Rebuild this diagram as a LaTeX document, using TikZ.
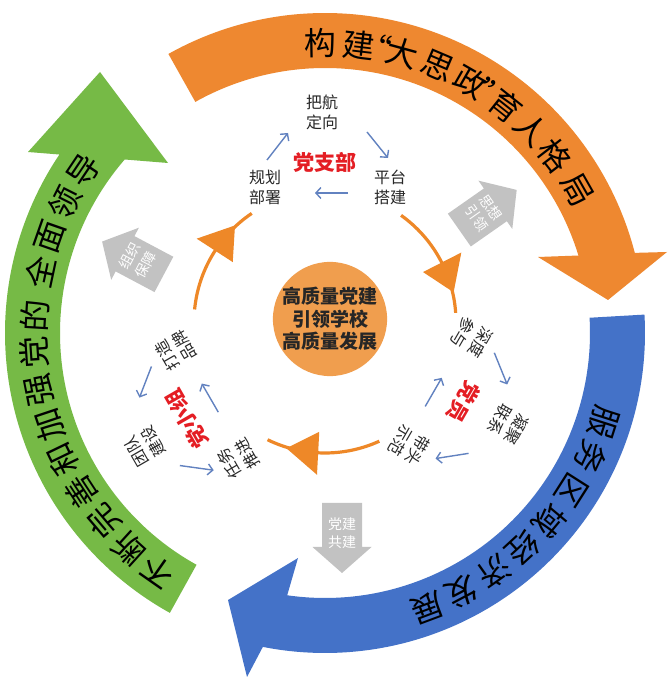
\documentclass[tikz,border=0pt]{standalone}
\usepackage{fontspec}
\newfontfamily\cjk{Noto Sans CJK SC}
\usetikzlibrary{arrows.meta,calc}
\definecolor{bigorange}{RGB}{238,136,48}
\definecolor{bigblue}{RGB}{68,114,200}
\definecolor{biggreen}{RGB}{118,186,70}
\definecolor{coreorange}{RGB}{240,158,78}
\definecolor{arcorange}{RGB}{238,136,40}
\definecolor{greyarrow}{RGB}{194,194,194}
\definecolor{linkblue}{RGB}{98,130,192}
\definecolor{partyred}{RGB}{228,30,36}
\definecolor{labelgrey}{RGB}{40,40,40}
\begin{document}
\begin{tikzpicture}[x=1pt,y=1pt,
  bandchar/.style={font=\cjk\fontsize{32}{32}\selectfont, text=black, inner sep=0pt},
  smalllabel/.style={font=\cjk\fontsize{16}{20}\selectfont, text=labelgrey, align=center, inner sep=0pt},
  unitlabel/.style={font=\cjk\bfseries\fontsize{21}{21}\selectfont, text=partyred, inner sep=0pt},
  linkarrow/.style={draw=linkblue, line width=1.4pt, -{Straight Barb[length=5pt,width=11pt]}},
  ringarc/.style={draw=arcorange, line width=3.2pt},
  arctip/.style={fill=arcorange},
  greyblock/.style={fill=greyarrow},
  greytext/.style={font=\cjk\fontsize{14}{18}\selectfont, text=white, align=center, inner sep=0pt},
  coretext/.style={font=\cjk\bfseries\fontsize{19}{22.5}\selectfont, text=black!85, align=center}
]
\useasboundingbox (0,0) rectangle (669,679);
\fill[white] (0,0) rectangle (669,679);

% ---------- outer ring of three big arrows (centre C) ----------
\begin{scope}[shift={(325,346)}]
  % orange
  \fill[bigorange] (119.3:320) arc[start angle=119.3,end angle=14.5,radius=320]
     -- (342,81) -- (283,33) -- (213,76)
     -- (17:265) arc[start angle=17,end angle=119.3,radius=265] -- cycle;
  % blue
  \fill[bigblue] (3.3:320) arc[start angle=3.3,end angle=-101.2,radius=320]
     -- (-78,-344) -- (-97,-267) -- (-27,-225)
     -- (-98.2:265) arc[start angle=-98.2,end angle=3.3,radius=265] -- cycle;
  % green
  \fill[biggreen] (-119:320) arc[start angle=-119,end angle=-213.9,radius=320]
     -- (-297,181) -- (-225,261) -- (-157,170)
     -- (-220.9:265) arc[start angle=-220.9,end angle=-119,radius=265] -- cycle;

  \foreach \c/\a [count=\i] in {构/91,建/83.3,“/80,大/74.6,思/67,政/60,”/54.8,育/51.5,人/44.7,格/37.7,局/29.6}
    \node[bandchar, rotate=\a-90] (oc\i) at (\a:290) {\c};
  \foreach \c/\a [count=\i] in {服/-17.7,务/-25.1,区/-32.5,域/-39.9,经/-47.3,济/-54.7,发/-62.1,展/-69.5}
    \node[bandchar, rotate=\a-90] (bc\i) at (\a:293) {\c};
  \foreach \c/\a [count=\i] in {不/235,断/227.7,完/220.4,善/213.1,和/205.8,加/198.5,强/191.2,党/183.9,的/176.6,全/168.0,面/160.7,领/153.4,导/146.1}
    \node[bandchar, rotate=\a-90] (gc\i) at (\a:291) {\c};
\end{scope}

% ---------- grey block arrows ----------
\begin{scope}[shift={(342,141)}]
  \fill[greyblock] (-20,35) -- (20,35) -- (20,-9) -- (29.5,-9) -- (0,-35) -- (-29.5,-9) -- (-20,-9) -- cycle;
  \node[greytext] (gjoint) at (0,5) {党建\\共建};
\end{scope}
\begin{scope}[shift={(488,469)}, rotate=125, transform shape]
  \fill[greyblock] (-20,35) -- (20,35) -- (20,-9) -- (29.5,-9) -- (0,-35) -- (-29.5,-9) -- (-20,-9) -- cycle;
  \node[greytext, rotate=180] (gthought) at (0,5) {思想\\引领};
\end{scope}
\begin{scope}[shift={(133,421)}, rotate=242, transform shape]
  \fill[greyblock] (-20,35) -- (20,35) -- (20,-9) -- (29.5,-9) -- (0,-35) -- (-29.5,-9) -- (-20,-9) -- cycle;
  \node[greytext, rotate=180] (gorg) at (0,5) {组织\\保障};
\end{scope}

% ---------- inner cycle (centre O) ----------
\begin{scope}[shift={(325,357)}]
  \foreach \r in {0,-120,120}{
    \begin{scope}[rotate=\r]
      \draw[ringarc] (54.5:131) arc[start angle=54.5,end angle=4,radius=131];
      \fill[arctip] (27:110) -- (27:153) -- (13:132) -- cycle;
    \end{scope}
  }
  % top group
  \begin{scope}
    \node[smalllabel] (pA) at (-3,210) {把航\\定向};
    \node[smalllabel] (pB) at (65,135) {平台\\搭建};
    \node[smalllabel] (pC) at (-60,135) {规划\\部署};
    \node[unitlabel] (pU) at (0,160) {党支部};
    \coordinate (p1s) at (-58,162); \coordinate (p1e) at (-37,189);
    \coordinate (p2s) at (42,190);  \coordinate (p2e) at (63,164);
    \coordinate (p3s) at (23,129);  \coordinate (p3e) at (-10,129);
    \draw[linkarrow] (p1s) -- (p1e);
    \draw[linkarrow] (p2s) -- (p2e);
    \draw[linkarrow] (p3s) -- (p3e);
  \end{scope}
  % right group
  \begin{scope}[rotate=-120, transform shape]
    \node[smalllabel] (mA) at (-3,210) {凝聚\\联系};
    \node[smalllabel] (mB) at (65,135) {带头\\示范};
    \node[smalllabel] (mC) at (-60,135) {深度\\参与};
    \node[unitlabel] (mU) at (0,160) {党员};
    \coordinate (m1s) at (-58,162); \coordinate (m1e) at (-37,189);
    \coordinate (m2s) at (42,190);  \coordinate (m2e) at (63,164);
    \coordinate (m3s) at (23,129);  \coordinate (m3e) at (-10,129);
    \draw[linkarrow] (m1s) -- (m1e);
    \draw[linkarrow] (m2s) -- (m2e);
    \draw[linkarrow] (m3s) -- (m3e);
  \end{scope}
  % left group
  \begin{scope}[shift={(0,-17)}, rotate=120, transform shape]
    \node[smalllabel] (sA) at (-3,210) {团队\\建设};
    \node[smalllabel] (sB) at (65,135) {打造\\品牌};
    \node[smalllabel] (sC) at (-60,135) {任务\\推进};
    \node[unitlabel] (sU) at (0,160) {党小组};
    \coordinate (s1s) at (-58,162); \coordinate (s1e) at (-37,189);
    \coordinate (s2s) at (42,190);  \coordinate (s2e) at (63,164);
    \coordinate (s3s) at (23,129);  \coordinate (s3e) at (-10,129);
    \draw[linkarrow] (s1e) -- (s1s);
    \draw[linkarrow] (s2e) -- (s2s);
    \draw[linkarrow] (s3e) -- (s3s);
  \end{scope}
\end{scope}

% ---------- core ----------
\node[circle, fill=coreorange, minimum size=110pt, inner sep=0pt, coretext] (core) at (330,360) {高质量党建\\引领学校\\高质量发展};
\end{tikzpicture}
\end{document}
